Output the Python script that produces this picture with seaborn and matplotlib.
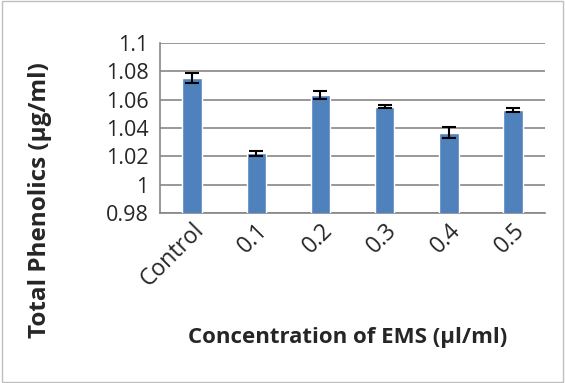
import pandas as pd
import numpy as np
import matplotlib
matplotlib.use("Agg")
import matplotlib.pyplot as plt
import seaborn as sns

# data
concentrations = ["Control", "0.1", "0.2", "0.3", "0.4", "0.5"]
phenolics = [1.0753, 1.0221, 1.0633, 1.0550, 1.0367, 1.0527]
errors = [0.0033, 0.0019, 0.0026, 0.0012, 0.0036, 0.0016]

df = pd.DataFrame({"conc": concentrations, "val": phenolics, "err": errors})

sns.set_style("white")
plt.rcParams["font.family"] = ["Open Sans", "DejaVu Sans"]

fig = plt.figure(figsize=(5.65, 3.83), dpi=100)
ax = fig.add_axes([0.283, 0.444, 0.682, 0.444])

sns.barplot(data=df, x="conc", y="val", color="#4F81BD", width=0.3,
            saturation=1, ax=ax, zorder=3)
ax.errorbar(np.arange(len(df)), df["val"], yerr=df["err"], fmt="none",
            ecolor="black", elinewidth=1.5, capsize=5, capthick=1.5, zorder=4)

ax.set_ylim(0.98, 1.1)
ax.set_yticks([0.98, 1.0, 1.02, 1.04, 1.06, 1.08, 1.1])
ax.set_yticklabels(["0.98", "1", "1.02", "1.04", "1.06", "1.08", "1.1"], fontsize=15.5)
ax.set_xlim(-0.5, 5.5)
ax.yaxis.grid(True, color="#868686", linewidth=1.2, zorder=0)
ax.set_axisbelow(True)

for s in ["top", "right"]:
    ax.spines[s].set_visible(False)
ax.spines["left"].set_color("#868686")
ax.spines["bottom"].set_color("#868686")
ax.spines["left"].set_linewidth(1.2)
ax.spines["bottom"].set_linewidth(1.2)

ax.set_xticks(np.arange(-0.5, 6, 1), minor=True)
ax.tick_params(axis="x", which="minor", length=6, color="#868686", width=1.2, direction="out")
ax.tick_params(axis="x", which="major", length=0, pad=4)
ax.tick_params(axis="y", length=6, color="#868686", width=1.2, direction="out", pad=2)
ax.set_xticks(np.arange(len(df)))
ax.set_xticklabels(concentrations, rotation=45, ha="right", rotation_mode="anchor", fontsize=16.5)

ax.set_xlabel("Concentration of EMS (µl/ml)", fontsize=16, fontweight="bold")
ax.set_ylabel("Total Phenolics (µg/ml)", fontsize=17.5, fontweight="bold")
ax.xaxis.set_label_coords(0.486, -0.67)
ax.yaxis.set_label_coords(-0.28, 0.076)

# outer chart border
fig.patches.append(plt.Rectangle((0.003, 0.003), 0.994, 0.994, transform=fig.transFigure,
                                 fill=False, edgecolor="#bfbfbf", linewidth=1))

fig.savefig("out.png", dpi=100)
